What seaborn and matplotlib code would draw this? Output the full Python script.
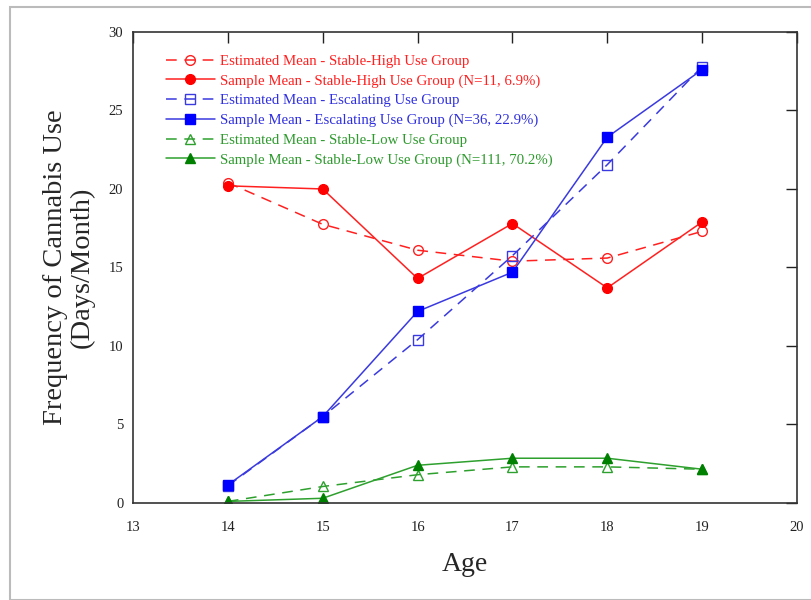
import pandas as pd
from matplotlib import pyplot as plt
from matplotlib.patches import Rectangle
import numpy as np
import seaborn as sns

ages = [14, 15, 16, 17, 18, 19]

high_est = [20.4, 17.75, 16.1, 15.4, 15.6, 17.3]
high_sample = [20.2, 20.0, 14.3, 17.8, 13.7, 17.9]
esc_est = [1.1, 5.5, 10.4, 15.75, 21.55, 27.8]
esc_sample = [1.15, 5.5, 12.2, 14.7, 23.3, 27.6]
low_est = [0.1, 1.05, 1.8, 2.3, 2.3, 2.15]
low_sample = [0.1, 0.3, 2.4, 2.85, 2.85, 2.15]

labels = [
    "Estimated Mean - Stable-High Use Group",
    "Sample Mean - Stable-High Use Group (N=11, 6.9%)",
    "Estimated Mean - Escalating Use Group",
    "Sample Mean - Escalating Use Group (N=36, 22.9%)",
    "Estimated Mean - Stable-Low Use Group",
    "Sample Mean - Stable-Low Use Group (N=111, 70.2%)",
]

sns.set_style("white")
plt.rcParams['font.family'] = ['Liberation Serif', 'DejaVu Serif']

fig = plt.figure(figsize=(8.12, 6), dpi=100)
ax = fig.add_axes([0.1638, 0.1617, 0.8177, 0.785])

series = [
    (high_est, labels[0], "#ff2020", "o", "--", "none"),
    (high_sample, labels[1], "#ff2020", "o", "-", "#ff0000"),
    (esc_est, labels[2], "#3a3ae0", "s", "--", "none"),
    (esc_sample, labels[3], "#3a3ae0", "s", "-", "#0000ff"),
    (low_est, labels[4], "#2ea02e", "^", "--", "none"),
    (low_sample, labels[5], "#2ea02e", "^", "-", "#008000"),
]
text_colors = ["#ff2020", "#ff2020", "#3030e0", "#3030e0", "#2e9a2e", "#2e9a2e"]

for vals, lab, col, mk, ls, fc in series:
    df = pd.DataFrame({"Age": ages, "val": vals})
    ec = col if fc == "none" else fc
    sns.lineplot(data=df, x="Age", y="val", ax=ax, color=col, marker=mk,
                 linestyle=ls, linewidth=1.1, markersize=7,
                 markerfacecolor=fc, markeredgecolor=ec, markeredgewidth=1.0,
                 label=lab, dashes=False)
    ax.lines[-1].set_linestyle(ls)
    if ls == "--":
        ax.lines[-1].set_dashes([7, 5])

ax.set_xlim(13, 20)
ax.set_ylim(0, 30)
ax.set_xticks(range(13, 21))
ax.set_yticks(range(0, 31, 5))
ax.tick_params(direction="in", length=8, width=1, top=True, right=True,
               labelsize=10.5, colors="#222222")
ax.tick_params(axis="x", pad=13)
ax.tick_params(axis="y", pad=7)
for s in ax.spines.values():
    s.set_color("#333333")
    s.set_linewidth(1.2)

ax.set_xlabel("Age", fontsize=20, labelpad=13)
ax.set_ylabel("Frequency of Cannabis Use\n(Days/Month)", fontsize=20.5, labelpad=10,
              linespacing=1.1)

leg = ax.legend(loc="upper left", bbox_to_anchor=(0.04, 0.965), frameon=False,
                fontsize=10.7, handlelength=3.3, handletextpad=0.4,
                labelspacing=0.42, borderaxespad=0)
for t, c in zip(leg.get_texts(), text_colors):
    t.set_color(c)

fig.patches.append(Rectangle((10 / 812, 0), 1.2, (600 - 7) / 600, transform=fig.transFigure,
                             fill=False, edgecolor="#bbbbbb", linewidth=1.5))

fig.savefig("out.png", dpi=100)
